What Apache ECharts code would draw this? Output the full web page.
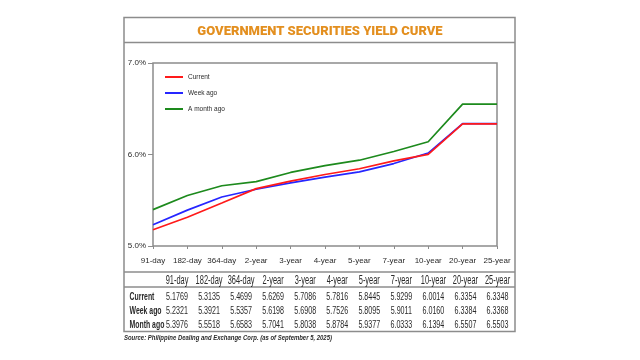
<!DOCTYPE html>
<html><head><meta charset="utf-8">
<script src="https://cdn.jsdelivr.net/npm/echarts@6/dist/echarts.min.js"></script>
<style>html,body{margin:0;padding:0;background:#fff}#c{width:640px;height:360px}</style>
</head><body><div id="c"></div>
<script>
const categories = ['91-day','182-day','364-day','2-year','3-year','4-year','5-year','7-year','10-year','20-year','25-year'];
const current  = [5.1769,5.3135,5.4699,5.6269,5.7086,5.7816,5.8445,5.9299,6.0014,6.3354,6.3348];
const weekAgo  = [5.2321,5.3921,5.5357,5.6198,5.6908,5.7526,5.8095,5.9011,6.0160,6.3384,6.3368];
const monthAgo = [5.3976,5.5518,5.6583,5.7041,5.8038,5.8784,5.9377,6.0333,6.1394,6.5507,6.5503];
const seriesNames = ['Current','Week ago','A month ago'];
const rowLabels = ['Current','Week ago','Month ago'];
const titleText = 'GOVERNMENT SECURITIES YIELD CURVE';
const sourceText = 'Source: Philippine Dealing and Exchange Corp. (as of September 5, 2025)';

const chart = echarts.init(document.getElementById('c'), null, {renderer:'canvas'});
const colors = ['#ff1a1a','#2626ff','#1d8a1d'];
const rows = [current, weekAgo, monthAgo];

const gray = '#8c8c8c';
const txt = '#2a2a2a';
const fam = '"Liberation Sans", Arial, sans-serif';
const colX = i => 177 + i * 32.05;
const rowY = [296.8, 310.6, 324.6];
const SX = 0.62;

const g = [];
g.push({type:'rect', shape:{x:124,y:17.5,width:391,height:314}, style:{fill:'none', stroke:gray, lineWidth:1.5}, silent:true});
g.push({type:'line', shape:{x1:124,y1:42.5,x2:515,y2:42.5}, style:{stroke:gray, lineWidth:1.5}, silent:true});
g.push({type:'line', shape:{x1:124,y1:272,x2:515,y2:272}, style:{stroke:gray, lineWidth:1.5}, silent:true});
g.push({type:'line', shape:{x1:124,y1:287,x2:515,y2:287}, style:{stroke:gray, lineWidth:1.5}, silent:true});
categories.forEach((c,i)=>{
  g.push({type:'text', x:colX(i), y:280.5, scaleX:SX, silent:true,
    style:{text:c, align:'center', verticalAlign:'middle', fill:txt, font:'12px '+fam}});
});
rows.forEach((r,ri)=>{
  g.push({type:'text', x:129.5, y:rowY[ri], scaleX:0.6, silent:true,
    style:{text:rowLabels[ri], align:'left', verticalAlign:'middle', fill:txt, font:'bold 11.5px '+fam}});
  r.forEach((v,i)=>{
    g.push({type:'text', x:colX(i), y:rowY[ri], scaleX:SX, silent:true,
      style:{text:v.toFixed(4), align:'center', verticalAlign:'middle', fill:txt, font:'11.5px '+fam}});
  });
});
g.push({type:'text', x:124, y:338, scaleX:0.85, silent:true,
  style:{text:sourceText, align:'left', verticalAlign:'middle', fill:txt, font:'italic bold 7px '+fam}});

chart.setOption({
  animation:false,
  backgroundColor:'#fff',
  title:{text:titleText, left:'center', top:20.5, textStyle:{fontFamily:'Roboto', fontWeight:900, fontSize:13, color:'#e38f1f'}},
  legend:{data:seriesNames, orient:'vertical', left:165, top:73, icon:'rect', itemWidth:18, itemHeight:2, itemGap:8, padding:0,
    textStyle:{fontSize:6.5, lineHeight:8, color:txt, fontFamily:'Liberation Sans'}},
  grid:{left:153, top:63, right:143, bottom:114, show:true, borderColor:gray, borderWidth:1.5, containLabel:false},
  xAxis:{type:'category', data:categories, boundaryGap:false,
    axisLine:{show:false}, axisTick:{show:true, length:3, lineStyle:{color:gray}},
    axisLabel:{interval:0, hideOverlap:false, fontSize:8, color:txt, margin:11, fontFamily:'Liberation Sans'}},
  yAxis:{type:'value', min:5, max:7, interval:1,
    axisLine:{show:false}, axisTick:{show:true, length:5, lineStyle:{color:gray}}, splitLine:{show:false},
    axisLabel:{fontSize:8, color:txt, margin:7, fontFamily:'Liberation Sans', formatter:v=>v.toFixed(1)+'%'}},
  series: rows.map((r,i)=>({name:seriesNames[i], type:'line', data:r, showSymbol:false, symbol:'none',
    lineStyle:{width:1.7, color:colors[i]}, itemStyle:{color:colors[i]}, z:3-i})),
  graphic:g
});
</script></body></html>
